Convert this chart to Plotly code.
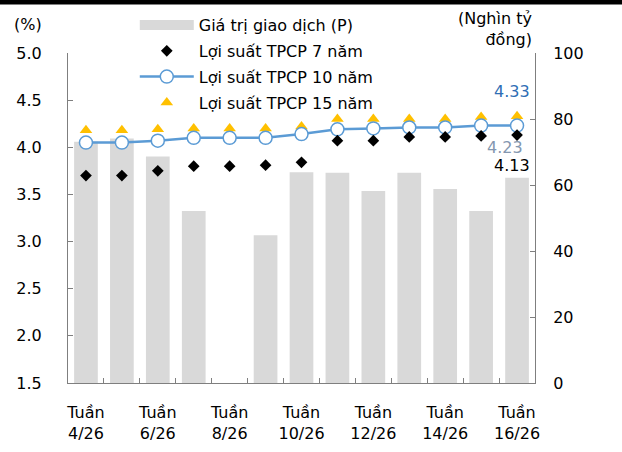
import plotly.graph_objects as go

weeks = ["4/26", "5/26", "6/26", "7/26", "8/26", "9/26", "10/26",
         "11/26", "12/26", "13/26", "14/26", "15/26", "16/26"]
volume = [73.1, 74.1, 68.6, 52.1, None, 44.8, 63.9, 63.7, 58.2, 63.7, 58.8, 52.1, 62.2]
y7 = [3.70, 3.70, 3.75, 3.80, 3.80, 3.81, 3.84, 4.07, 4.07, 4.11, 4.11, 4.12, 4.13]
y10 = [4.05, 4.05, 4.07, 4.10, 4.10, 4.10, 4.14, 4.19, 4.20, 4.21, 4.21, 4.23, 4.23]
y15 = [4.18, 4.18, 4.19, 4.20, 4.20, 4.20, 4.22, 4.30, 4.30, 4.30, 4.30, 4.32, 4.33]
tick_text = ["Tuần<br>" + w if i % 2 == 0 else "" for i, w in enumerate(weeks)]

names = ["Giá trị giao dịch (P)", "Lợi suất TPCP 7 năm",
         "Lợi suất TPCP 10 năm", "Lợi suất TPCP 15 năm"]

FONT = "DejaVu Sans"
AX = "#7f7f7f"
BLUE = "#5B9BD5"

fig = go.Figure()
fig.add_trace(go.Bar(x=weeks, y=volume, marker=dict(color="#D9D9D9", line=dict(width=0)),
                     width=0.66, showlegend=False, yaxis="y"))
# legend swatch for bars
fig.add_trace(go.Scatter(x=[None], y=[None], mode="lines", name=names[0],
                         line=dict(color="#D9D9D9", width=10), legendrank=1,
                         legendgroup="a", yaxis="y"))
fig.add_trace(go.Scatter(x=weeks, y=y15, mode="markers", name=names[3],
                         marker=dict(symbol="triangle-up", size=11, color="#FFC000"),
                         legendrank=4, legendgroup="d", yaxis="y2"))
fig.add_trace(go.Scatter(x=weeks, y=y10, mode="lines+markers", name=names[2],
                         line=dict(color=BLUE, width=2.5),
                         marker=dict(symbol="circle", size=13, color="white",
                                     line=dict(color=BLUE, width=1.5)),
                         legendrank=3, legendgroup="c", yaxis="y2"))
fig.add_trace(go.Scatter(x=weeks, y=y7, mode="markers", name=names[1],
                         marker=dict(symbol="diamond", size=9, color="black"),
                         legendrank=2, legendgroup="b", yaxis="y2"))

# end labels
fig.add_annotation(x=weeks[-1], y=y15[-1], yref="y2", text=f"{y15[-1]:.2f}", showarrow=False,
                   xshift=-5, yshift=25, font=dict(color="#2F6EB5", size=16, family=FONT))
fig.add_annotation(x=weeks[-1], y=y10[-1], yref="y2", text=f"{y10[-1]:.2f}", showarrow=False,
                   xshift=-12, yshift=-22, font=dict(color="#8497B0", size=16, family=FONT))
fig.add_annotation(x=weeks[-1], y=y7[-1], yref="y2", text=f"{y7[-1]:.2f}", showarrow=False,
                   xshift=-5, yshift=-30, font=dict(color="black", size=16, family=FONT))

# axis titles
fig.add_annotation(xref="paper", yref="paper", x=-0.085, y=1.085, text="(%)", showarrow=False,
                   xanchor="center", yanchor="middle", font=dict(size=16, family=FONT, color="black"))
fig.add_annotation(xref="paper", yref="paper", x=0.998, y=1.14, text="(Nghìn tỷ<br>đồng)",
                   showarrow=False, xanchor="right", yanchor="top", align="right",
                   font=dict(size=16, family=FONT, color="black"))

# black top band (paper coordinates, above the plot area)
fig.add_shape(type="rect", xref="paper", yref="paper", x0=-0.2, x1=1.2,
              y0=1 + 48.5 / 330, y1=1 + 60 / 330,
              fillcolor="black", line=dict(width=0), layer="above")

fig.update_layout(
    width=622, height=452,
    margin=dict(l=68, r=87, t=53, b=69, autoexpand=False),
    paper_bgcolor="white", plot_bgcolor="white",
    font=dict(family=FONT, size=16, color="black"),
    bargap=0.34,
    xaxis=dict(type="category", tickvals=weeks, ticktext=tick_text, tickson="boundaries",
               ticks="inside", ticklen=5, tickcolor=AX, showline=True, linecolor=AX,
               linewidth=1, showgrid=False, range=[-0.5, 12.5], ticklabelstandoff=15,
               tickangle=0, automargin=False),
    yaxis=dict(side="right", range=[0, 100], tickvals=[0, 20, 40, 60, 80, 100],
               ticks="inside", ticklen=5, tickcolor=AX, showline=True, linecolor=AX,
               linewidth=1, showgrid=False, zeroline=False, ticklabelstandoff=14,
               automargin=False),
    yaxis2=dict(side="left", overlaying="y", range=[1.5, 5.0],
                tickvals=[1.5, 2.0, 2.5, 3.0, 3.5, 4.0, 4.5, 5.0], tickformat=".1f",
                ticks="inside", ticklen=5, tickcolor=AX, showline=True, linecolor=AX,
                linewidth=1, showgrid=False, zeroline=False, ticklabelstandoff=22,
                automargin=False),
    legend=dict(x=0.143, y=1.136, xanchor="left", yanchor="top", bgcolor="rgba(0,0,0,0)",
                itemwidth=54, traceorder="grouped", tracegroupgap=2,
                font=dict(size=16, family=FONT)),
)

fig.write_html("out.html", config={"displayModeBar": False},
               post_script="document.body.style.margin='0px';document.body.style.overflow='hidden';")
